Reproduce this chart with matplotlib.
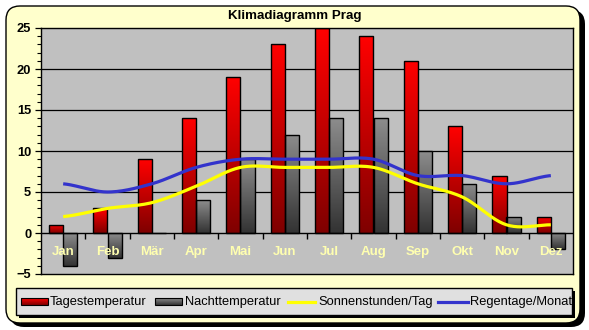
import numpy as np
import matplotlib.pyplot as plt
from matplotlib.patches import FancyBboxPatch, Rectangle
from matplotlib.lines import Line2D

plt.rcParams["font.family"] = ["Liberation Sans", "DejaVu Sans"]

months = ["Jan", "Feb", "Mär", "Apr", "Mai", "Jun",
          "Jul", "Aug", "Sep", "Okt", "Nov", "Dez"]
tages = [1, 3, 9, 14, 19, 23, 25, 24, 21, 13, 7, 2]
nacht = [-4, -3, 0, 4, 9, 12, 14, 14, 10, 6, 2, -2]
sonne = [2, 3, 3.7, 5.7, 8, 8, 8, 8, 6, 4.4, 1, 1]
regen = [6, 5, 6, 8, 9, 9, 9, 9, 7, 7, 6, 7]

W, H = 589, 330
RED = ((1.0, 0.0, 0.0), (0.5, 0.0, 0.0))
GRAY = ((0.55, 0.55, 0.55), (0.2, 0.2, 0.2))


def smooth(x, y, n=24):
    # Catmull-Rom curve through the points (like Excel's smoothed lines)
    x = np.asarray(x, float)
    y = np.asarray(y, float)
    px = np.concatenate([[2 * x[0] - x[1]], x, [2 * x[-1] - x[-2]]])
    py = np.concatenate([[y[0]], y, [y[-1]]])
    xs, ys = [], []
    for i in range(1, len(px) - 2):
        t = np.linspace(0, 1, n, endpoint=False)
        for p, out in ((px, xs), (py, ys)):
            p0, p1, p2, p3 = p[i - 1], p[i], p[i + 1], p[i + 2]
            out.append(0.5 * (2 * p1 + (-p0 + p2) * t
                              + (2 * p0 - 5 * p1 + 4 * p2 - p3) * t ** 2
                              + (-p0 + 3 * p1 - 3 * p2 + p3) * t ** 3))
    xs.append([x[-1]])
    ys.append([y[-1]])
    return np.concatenate(xs), np.concatenate(ys)


def grad_img(colors):
    grad = np.linspace(0, 1, 64).reshape(-1, 1)
    c0, c1 = np.array(colors[0]), np.array(colors[1])
    return c0 + (c1 - c0) * grad[..., None]


def gradient_fill(ax, bars, colors):
    img = grad_img(colors)
    for b in bars:
        x0, y0 = b.get_x(), b.get_y()
        x1, y1 = x0 + b.get_width(), y0 + b.get_height()
        lo, hi = min(y0, y1), max(y0, y1)
        if hi - lo == 0:
            continue
        im = ax.imshow(img, extent=[x0, x1, lo, hi], aspect="auto",
                       origin="upper", zorder=2, interpolation="bilinear")
        im.set_clip_path(b)


fig = plt.figure(figsize=(W / 100, H / 100), dpi=100)
fig.patch.set_facecolor("white")

# background layer in pixel coordinates
bg = fig.add_axes([0, 0, 1, 1], zorder=0)
bg.set_xlim(0, W)
bg.set_ylim(H, 0)
bg.axis("off")
bg.add_patch(FancyBboxPatch((10, 10), 575, 317, boxstyle="round,pad=0,rounding_size=14",
                            fc="black", ec="black", lw=0))
bg.add_patch(FancyBboxPatch((6, 6), 574, 317, boxstyle="round,pad=0,rounding_size=14",
                            fc="#FFFFCC", ec="black", lw=1))
bg.text(W / 2, 16, "Klimadiagramm Prag", ha="center", va="center",
        fontsize=9.6, fontweight="bold")

# legend box
bg.add_patch(Rectangle((19, 291), 556, 27, fc="black", lw=0))
bg.add_patch(Rectangle((16, 288), 556, 27, fc="#E0E0E0", ec="black", lw=1))
ly = 301.5
for x0, cols in ((21, RED), (155, GRAY)):
    bg.imshow(grad_img(cols), extent=[x0, x0 + 27, 305, 298], aspect="auto",
              origin="upper", zorder=2)
    bg.add_patch(Rectangle((x0, 298), 27, 7, fc="none", ec="black", lw=0.8, zorder=3))
bg.set_xlim(0, W)
bg.set_ylim(H, 0)
bg.text(50, ly, "Tagestemperatur", va="center", fontsize=9.3)
bg.text(185, ly, "Nachttemperatur", va="center", fontsize=9.3)
bg.add_line(Line2D([288, 315], [ly, ly], color="#FFFF00", lw=2.3))
bg.text(318, ly, "Sonnenstunden/Tag", va="center", fontsize=9.3)
bg.add_line(Line2D([438, 468], [ly, ly], color="#3333CC", lw=2.3))
bg.text(470, ly, "Regentage/Monat", va="center", fontsize=9.3)

# main plot area
ax = fig.add_axes([41 / W, (H - 274) / H, 532 / W, 246 / H], zorder=1)
ax.set_facecolor("#C0C0C0")
x = np.arange(len(months))
bw = 0.316

red = ax.bar(x - bw / 2, tages, bw, fc="none", ec="black", lw=1, zorder=3)
gray = ax.bar(x + bw / 2, nacht, bw, fc="none", ec="black", lw=1, zorder=3)
gradient_fill(ax, red, RED)
gradient_fill(ax, gray, GRAY)

sx, sy = smooth(x, sonne)
ax.plot(sx, sy, color="#FFFF00", lw=2.3, zorder=4, solid_capstyle="butt")
rx, ry = smooth(x, regen)
ax.plot(rx, ry, color="#3333CC", lw=2.3, zorder=4, solid_capstyle="butt")

ax.set_xlim(-0.5, len(months) - 0.5)
ax.set_ylim(-5, 25)
ax.set_yticks(range(-5, 26, 5))
ax.set_yticks(range(-5, 26), minor=True)
ax.set_xticks([])
for v in range(5, 25, 5):
    ax.axhline(v, color="black", lw=0.9, zorder=1)
ax.axhline(0, color="black", lw=1, zorder=3.5)
# category separators on the zero line
ax.plot(x[:-1] + 0.5, np.zeros(len(x) - 1), lw=0, marker=3, ms=4,
        mew=1, color="black", zorder=3.5)

for i, m in enumerate(months):
    ax.text(i, -2.3, m, ha="center", va="center", color="#FFFFB0",
            fontsize=9.5, fontweight="bold", zorder=5)

ax.tick_params(axis="y", which="major", length=4, width=0.9, pad=3,
               labelsize=9.3, direction="out")
ax.tick_params(axis="y", which="minor", length=3, width=0.8, direction="out")
for lab in ax.get_yticklabels():
    lab.set_fontweight("bold")
for s in ax.spines.values():
    s.set_linewidth(1)

fig.savefig("out.png", dpi=100)
